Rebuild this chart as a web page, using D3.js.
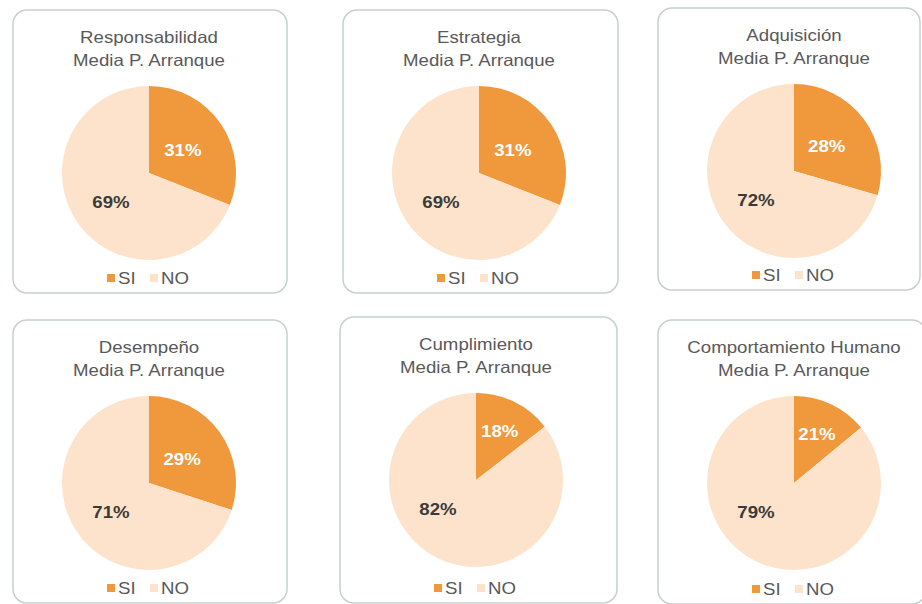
<!DOCTYPE html>
<html>
<head>
<meta charset="utf-8">
<script src="https://cdn.jsdelivr.net/npm/d3@7"></script>
<style>
  body { margin: 0; background: #fff; }
  svg text { font-family: "Liberation Sans", Arial, sans-serif; }
</style>
</head>
<body>
<div id="chart"></div>
<script>
// titulos de cada panel
const titles = ["Responsabilidad", "Estrategia", "Adquisición", "Desempeño", "Cumplimiento", "Comportamiento Humano"];
const subtitle = "Media P. Arranque";
const series = ["SI", "NO"];
// porcentajes escritos en las etiquetas
const siLabel = [31, 31, 28, 29, 18, 21];
const noLabel = [69, 69, 72, 71, 82, 79];
// parte SI tal como se ve dibujada en la imagen (no coincide siempre con la etiqueta)
const siDrawn = [31, 31, 29.5, 30, 14.5, 14];

// cajas de los paneles: x, y, ancho, alto
const boxes = [
  [13, 10, 274, 283], [343, 10, 275, 283], [658, 8, 262, 282],
  [13, 320, 274, 283], [340, 317, 277, 286], [658, 320, 268, 284]
];

const colors = d3.scaleOrdinal().domain(series).range(["#f0983c", "#fde3cb"]);
const R = 87;
const FS = "16.5px";
const SX = 1.13; // el texto del original esta algo ensanchado

const svg = d3.select("#chart").append("svg")
  .attr("width", 922)
  .attr("height", 604);

const pie = d3.pie().sort(null).value(d => d.v);
const arc = d3.arc().innerRadius(0).outerRadius(R);

// texto ensanchado en horizontal
function addText(parent, x, y, txt, anchor){
  return parent.append("text")
    .attr("transform", `translate(${x},${y}) scale(${SX},1)`)
    .attr("text-anchor", anchor || "middle")
    .attr("font-size", FS)
    .text(txt);
}

titles.forEach((t, i) => {
  let b = boxes[i];
  let g = svg.append("g").attr("transform", `translate(${b[0]},${b[1]})`);

  g.append("rect")
    .attr("x", 0).attr("y", 0)
    .attr("width", b[2]).attr("height", b[3])
    .attr("rx", 14).attr("ry", 14)
    .attr("fill", "#fff")
    .attr("stroke", "#c8d0cc")
    .attr("stroke-width", 1.5);

  let cx = 136;
  addText(g, cx, 33, t).attr("fill", "#595959");
  addText(g, cx, 56, subtitle).attr("fill", "#595959");

  let pg = g.append("g").attr("transform", `translate(${cx},163)`);
  let arcs = pie([{k: "SI", v: siDrawn[i]}, {k: "NO", v: 100 - siDrawn[i]}]);

  pg.selectAll("path")
    .data(arcs)
    .enter()
    .append("path")
    .attr("d", arc)
    .attr("fill", d => colors(d.data.k));

  // etiqueta SI: dentro del sector, mas afuera si el sector es estrecho
  let s = arcs[0];
  let mid = (s.startAngle + s.endAngle) / 2;
  let d = siDrawn[i] < 20 ? R * 0.62 : R * 0.47;
  addText(pg, Math.sin(mid) * d, -Math.cos(mid) * d, siLabel[i] + "%")
    .attr("dy", "0.35em")
    .attr("font-weight", "bold")
    .attr("fill", "#fff");

  // etiqueta NO: siempre abajo a la izquierda
  addText(pg, -38, 29, noLabel[i] + "%")
    .attr("dy", "0.35em")
    .attr("font-weight", "bold")
    .attr("fill", "#3a3a3a");

  // leyenda
  let lg = g.append("g").attr("transform", `translate(${cx},${b[3] - 15})`);
  let offs = [-42, 1];
  series.forEach((k, j) => {
    lg.append("rect")
      .attr("x", offs[j]).attr("y", -4)
      .attr("width", 8).attr("height", 8)
      .attr("fill", colors(k));
    addText(lg, offs[j] + 11, 0, k, "start")
      .attr("dy", "0.35em")
      .attr("fill", "#595959");
  });
});
</script>
</body>
</html>
